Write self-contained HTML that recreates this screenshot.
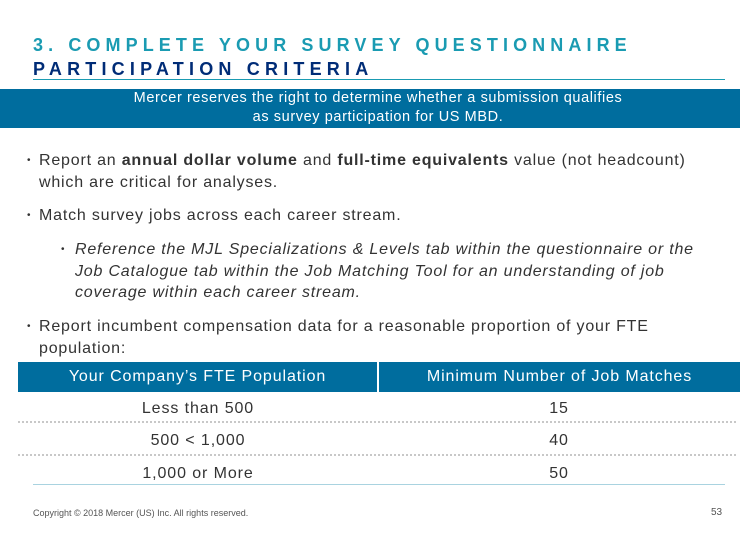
<!DOCTYPE html>
<html><head><meta charset="utf-8"><style>
body{margin:0;width:756px;height:540px;background:#fff;position:relative;overflow:hidden;font-family:"Liberation Sans",Arial,sans-serif;color:#333}
.a{position:absolute;white-space:nowrap}
.t1{left:33px;top:35px;font-size:18px;font-weight:bold;letter-spacing:5.1px;color:#1a9bb2}
.t2{left:33px;top:59px;font-size:18px;font-weight:bold;letter-spacing:5.2px;color:#002c77}
.p{font-size:16px;line-height:22px;letter-spacing:0.8px}
.b{position:absolute;font-size:10px;top:0}
.hd{background:#006d9e;color:#fff;font-size:16px;text-align:center;line-height:30px;letter-spacing:0.9px}
.cell{font-size:16px;text-align:center;width:360px;letter-spacing:0.9px}
.dot{position:absolute;left:18px;width:718px;border-top:2px dotted #c8c8c8}
</style></head><body>
<div class="a t1">3. COMPLETE YOUR SURVEY QUESTIONNAIRE</div>
<div class="a t2">PARTICIPATION CRITERIA</div>
<div class="a" style="left:33px;top:79px;width:692px;height:1px;background:#1a9bb2"></div>
<div class="a" style="left:0;top:89px;width:740px;height:39px;background:#006d9e;color:#fff;font-size:14.5px;line-height:19px;letter-spacing:0.6px;text-align:center;white-space:normal"><div style="width:756px">Mercer reserves the right to determine whether a submission qualifies<br>as survey participation for US MBD.</div></div>
<div class="a p" style="left:39px;top:150px"><span class="b" style="left:-12px">•</span>Report an <b>annual dollar volume</b> and <b>full-time equivalents</b> value (not headcount)<br>which are critical for analyses.</div>
<div class="a p" style="left:39px;top:205px"><span class="b" style="left:-12px">•</span>Match survey jobs across each career stream.</div>
<div class="a p" style="left:75px;top:239px;font-style:italic;line-height:21.5px"><span class="b" style="left:-14px;font-style:normal">•</span>Reference the MJL Specializations &amp; Levels tab within the questionnaire or the<br>Job Catalogue tab within the Job Matching Tool for an understanding of job<br>coverage within each career stream.</div>
<div class="a p" style="left:39px;top:316px"><span class="b" style="left:-12px">•</span>Report incumbent compensation data for a reasonable proportion of your FTE<br>population:</div>
<div class="a hd" style="left:18px;top:362px;width:359px;height:30px">Your Company’s FTE Population</div>
<div class="a hd" style="left:379px;top:362px;width:361px;height:30px">Minimum Number of Job Matches</div>
<div class="a cell" style="left:18px;top:400px">Less than 500</div>
<div class="a cell" style="left:379px;top:400px">15</div>
<div class="dot" style="top:421px"></div>
<div class="a cell" style="left:18px;top:432px">500 &lt; 1,000</div>
<div class="a cell" style="left:379px;top:432px">40</div>
<div class="dot" style="top:454px"></div>
<div class="a cell" style="left:18px;top:465px">1,000 or More</div>
<div class="a cell" style="left:379px;top:465px">50</div>
<div class="a" style="left:33px;top:484px;width:692px;height:1px;background:#a9d3e0"></div>
<div class="a" style="left:33px;top:508px;font-size:9px;color:#555">Copyright © 2018 Mercer (US) Inc. All rights reserved.</div>
<div class="a" style="left:711px;top:507px;font-size:10px;color:#555">53</div>
</body></html>
